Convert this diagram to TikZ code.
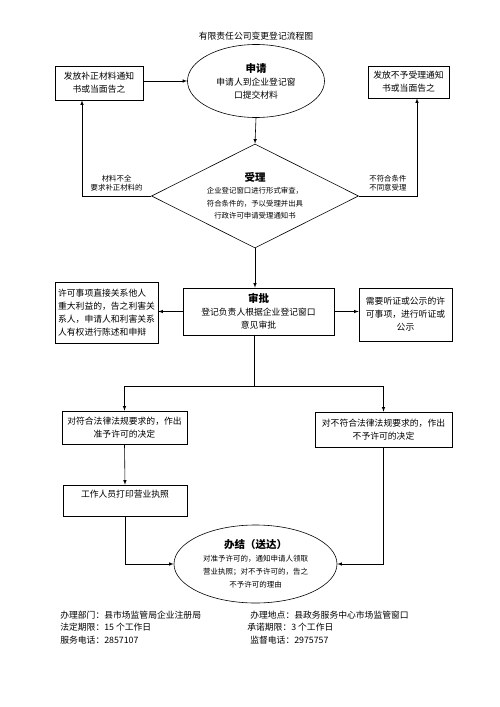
\documentclass[tikz,border=0pt]{standalone}
\usepackage{fontspec}
\setmainfont{Noto Sans CJK SC}
\usetikzlibrary{arrows,shapes.geometric}
\newcommand{\steptitle}[1]{{\bfseries\fontsize{10.5}{14}\selectfont #1}}

\begin{document}
\begin{tikzpicture}[x=1pt,y=-1pt,>=latex,line width=0.6pt]
	\tikzstyle{every node}=[font=\fontsize{8.8}{13}\selectfont]
	\tikzstyle{process}=[draw,rectangle,align=center,inner sep=2pt]
	\tikzstyle{terminal}=[draw,ellipse,align=center,inner sep=0pt]
	\tikzstyle{decision}=[draw,diamond,aspect=2,align=center,inner sep=0pt,minimum width=207pt,minimum height=104pt,font=\fontsize{7.4}{12.5}\selectfont]
	\tikzstyle{lbl}=[align=center,inner sep=0pt,font=\fontsize{7.4}{8.5}\selectfont]
	\tikzstyle{foot}=[anchor=west,inner sep=0pt]
	\useasboundingbox (0,0) rectangle (500,707);

	\node (title) at (256,36) {有限责任公司变更登记流程图};
	\node[terminal,minimum width=137pt,minimum height=73pt] (apply) at (256,81) {\steptitle{申请}\\申请人到企业登记窗\\口提交材料};
	\node[process,minimum width=88pt,minimum height=34pt] (notifyL) at (99,83) {发放补正材料通知\\书或当面告之};
	\node[process,minimum width=81pt,minimum height=32pt] (notifyR) at (408.5,82) {发放不予受理通知\\书或当面告之};
	\node[decision] (accept) at (255,196) {\steptitle{受理}\\企业登记窗口进行形式审查，\\符合条件的，予以受理并出具\\行政许可申请受理通知书};
	\node[process,minimum width=151pt,minimum height=47pt] (review) at (258.5,311.5) {\steptitle{审批}\\登记负责人根据企业登记窗口\\意见审批};
	\node[process,align=left,minimum width=103pt,minimum height=61pt] (permitL) at (106.5,312.5) {许可事项直接关系他人\\重大利益的，告之利害关\\系人，申请人和利害关系\\人有权进行陈述和申辩};
	\node[process,minimum width=93pt,minimum height=53pt] (hearing) at (405.5,314.5) {需要听证或公示的许\\可事项，进行听证或\\公示};
	\coordinate (split) at (254,386);
	\node[process,minimum width=125pt,minimum height=33pt] (grant) at (124.5,427.5) {对符合法律法规要求的，作出\\准予许可的决定};
	\node[process,minimum width=137pt,minimum height=35pt] (deny) at (383.5,429.5) {对不符合法律法规要求的，作出\\不予许可的决定};
	\node[process,minimum width=124pt,minimum height=31pt] (print) at (125,500.5) {工作人员打印营业执照\\\mbox{}};
	\node[terminal,minimum width=163pt,minimum height=78pt,font=\fontsize{7.5}{13}\selectfont] (done) at (255.5,564) {\steptitle{办结（送达）}\\对准予许可的，通知申请人领取\\营业执照；对不予许可的，告之\\不予许可的理由};

	\node[foot] (dept) at (60,615) {办理部门：县市场监管局企业注册局};
	\node[foot] (term) at (60,627) {法定期限：15 个工作日};
	\node[foot] (tel) at (60,640) {服务电话：2857107};
	\node[foot] (place) at (250,615) {办理地点：县政务服务中心市场监管窗口};
	\node[foot] (promise) at (247,627) {承诺期限：3 个工作日};
	\node[foot] (check) at (250,640) {监督电话：2975757};

	\draw[->] (notifyL.east |- apply.west) -- (apply.west);
	\draw[->] (apply.south) -- (accept.north);
	\draw[->] (accept.west) -| node[lbl,pos=0.25,above=5pt] {材料不全\\要求补正材料的} ([xshift=-17pt]notifyL.south);
	\draw[->] (accept.east) -| node[lbl,pos=0.25,above=5pt] {不符合条件\\不同意受理} ([xshift=8.5pt]notifyR.south);
	\draw[->] (accept.south) -- (accept.south |- review.north);
	\draw[->] (review.west) -- (review.west -| permitL.east);
	\draw[->] (review.east) -- (review.east -| hearing.west);
	\draw (review.south -| split) -- (split);
	\draw[->] (split) -| (grant.north);
	\draw[->] (split) -| (deny.north);
	\draw[->] (grant.south) -- (print.north);
	\draw[->] (print.south) |- (done.west);
	\draw[->] (deny.south) |- (done.east);
\end{tikzpicture}
\end{document}
